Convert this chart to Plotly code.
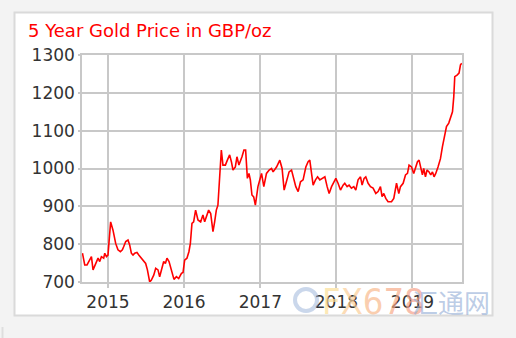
import plotly.graph_objects as go
import pandas as pd

# ---- data (decimal year, GBP/oz) ----
years = [2014.664, 2014.694, 2014.724, 2014.750, 2014.782, 2014.803, 2014.834, 2014.869, 2014.891, 2014.913,
         2014.943, 2014.957, 2014.979, 2015.000, 2015.035, 2015.066, 2015.101, 2015.131, 2015.163, 2015.189,
         2015.206, 2015.233, 2015.263, 2015.285, 2015.307, 2015.329, 2015.351, 2015.381, 2015.407, 2015.439,
         2015.469, 2015.495, 2015.518, 2015.548, 2015.570, 2015.601, 2015.627, 2015.657, 2015.679, 2015.710,
         2015.732, 2015.754, 2015.775, 2015.802, 2015.824, 2015.846, 2015.867, 2015.899, 2015.929, 2015.965,
         2015.986, 2016.008, 2016.038, 2016.064, 2016.083, 2016.104, 2016.126, 2016.152, 2016.183, 2016.218,
         2016.248, 2016.271, 2016.293, 2016.323, 2016.350, 2016.380, 2016.402, 2016.424, 2016.445, 2016.468,
         2016.490, 2016.511, 2016.543, 2016.569, 2016.599, 2016.622, 2016.643, 2016.674, 2016.695, 2016.721,
         2016.740, 2016.761, 2016.787, 2016.809, 2016.832, 2016.853, 2016.871, 2016.892, 2016.915, 2016.937,
         2016.971, 2017.016, 2017.046, 2017.081, 2017.116, 2017.147, 2017.168, 2017.213, 2017.256, 2017.286,
         2017.313, 2017.344, 2017.378, 2017.410, 2017.444, 2017.466, 2017.497, 2017.528, 2017.562, 2017.598,
         2017.628, 2017.650, 2017.673, 2017.694, 2017.725, 2017.752, 2017.782, 2017.817, 2017.848, 2017.878,
         2017.904, 2017.936, 2017.966, 2017.992, 2018.022, 2018.054, 2018.088, 2018.110, 2018.141, 2018.167,
         2018.198, 2018.229, 2018.255, 2018.285, 2018.317, 2018.338, 2018.364, 2018.386, 2018.417, 2018.448,
         2018.482, 2018.518, 2018.548, 2018.579, 2018.600, 2018.623, 2018.649, 2018.679, 2018.724, 2018.754,
         2018.790, 2018.820, 2018.842, 2018.877, 2018.908, 2018.934, 2018.955, 2018.987, 2019.017, 2019.039,
         2019.066, 2019.087, 2019.109, 2019.131, 2019.148, 2019.171, 2019.192, 2019.218, 2019.240, 2019.263,
         2019.284, 2019.306, 2019.336, 2019.368, 2019.394, 2019.424, 2019.447, 2019.477, 2019.503, 2019.526,
         2019.543, 2019.556, 2019.586, 2019.612, 2019.631, 2019.648]
prices = [776, 745, 745, 754, 767, 732, 745, 763, 754, 767,
          763, 776, 767, 771, 859, 837, 802, 785, 780, 785,
          793, 807, 811, 798, 776, 771, 776, 778, 771, 763,
          754, 749, 732, 700, 705, 718, 736, 732, 714, 740,
          754, 749, 763, 754, 736, 718, 707, 714, 709, 723,
          725, 758, 763, 780, 802, 855, 859, 890, 864, 859,
          877, 859, 872, 890, 881, 833, 859, 890, 903, 987,
          1049, 1009, 1009, 1022, 1036, 1018, 996, 1004, 1031, 1009,
          1018, 1031, 1049, 1049, 974, 987, 970, 930, 925, 903,
          952, 987, 952, 987, 996, 1000, 991, 1004, 1022, 1000,
          943, 965, 991, 996, 970, 952, 939, 965, 970, 1004,
          1018, 1022, 987, 956, 970, 978, 970, 974, 978, 952,
          934, 952, 965, 974, 961, 943, 956, 961, 952, 956,
          948, 952, 943, 970, 978, 956, 974, 978, 961, 952,
          948, 934, 939, 952, 926, 934, 921, 912, 912, 921,
          961, 934, 952, 961, 983, 987, 1009, 1004, 987, 1004,
          1018, 1022, 1004, 983, 1000, 978, 996, 991, 983, 991,
          978, 987, 1004, 1026, 1058, 1089, 1111, 1120, 1137, 1150,
          1190, 1243, 1247, 1252, 1274, 1278]
x_range_years = [2014.658, 2019.651]
year_ticks = [2015, 2016, 2017, 2018, 2019]
year_labels = ["2015", "2016", "2017", "2018", "2019"]
y_ticks = [700, 800, 900, 1000, 1100, 1200, 1300]
title_text = "5 Year Gold Price in GBP/oz"


def dec_to_date(v):
    y = int(v)
    return pd.Timestamp(year=y, month=1, day=1) + pd.Timedelta(days=(v - y) * 365.25)


dates = [dec_to_date(v) for v in years]

W, H = 516, 338
L, R, T, B = 82, 462, 55, 282


def px(x):
    return (x - L) / (R - L)


def py(y):
    return (B - y) / (B - T)


fig = go.Figure()
fig.add_trace(go.Scatter(x=dates, y=prices, mode="lines",
                         line=dict(color="#ff0000", width=1.6), hoverinfo="skip"))

grid = "#c8c8c8"
fig.update_xaxes(type="date", range=[dec_to_date(v) for v in x_range_years],
                 tickvals=[pd.Timestamp(year=v, month=1, day=1) for v in year_ticks],
                 ticktext=year_labels, showgrid=True, gridcolor=grid, gridwidth=1.5,
                 showline=True, linecolor=grid, linewidth=1.5, mirror=True,
                 ticks="outside", ticklen=4, tickcolor=grid, tickwidth=1.5,
                 tickfont=dict(family="DejaVu Sans", size=17, color="#333333"),
                 zeroline=False)
fig.update_yaxes(range=[700, 1300], tickvals=y_ticks, ticktext=[str(v) for v in y_ticks],
                 showgrid=True, gridcolor=grid, gridwidth=1.5,
                 showline=True, linecolor=grid, linewidth=1.5, mirror=True,
                 ticks="outside", ticklen=2, tickcolor=grid, tickwidth=1.5,
                 tickfont=dict(family="DejaVu Sans", size=17, color="#333333"),
                 zeroline=False)

shapes = [
    dict(type="rect", xref="paper", yref="paper", layer="below",
         x0=px(14.5), x1=px(492.5), y0=py(315.5), y1=py(12.5),
         fillcolor="#ffffff", line=dict(color="#dadada", width=2)),
    dict(type="line", xref="paper", yref="paper", layer="below",
         x0=px(2.5), x1=px(2.5), y0=py(327), y1=py(338),
         line=dict(color="#dedede", width=2)),
    dict(type="circle", xref="paper", yref="paper", layer="above",
         x0=px(295), x1=px(317), y0=py(311), y1=py(289),
         line=dict(color="rgba(150,175,215,0.5)", width=4)),
]

annotations = [
    dict(text=title_text, xref="paper", yref="paper", x=px(26), y=py(30.5),
         xanchor="left", yanchor="middle", showarrow=False,
         font=dict(family="DejaVu Sans", size=18, color="#ff0000")),
    dict(text=("<span style='color:rgba(252,222,150,0.7)'>F</span>"
               "<span style='color:rgba(251,205,150,0.7)'>X</span>"
               "<span style='color:rgba(249,185,140,0.7)'>6</span>"
               "<span style='color:rgba(247,170,135,0.7)'>7</span>"
               "<span style='color:rgba(245,160,135,0.7)'>8</span>"),
         xref="paper", yref="paper", x=px(373), y=py(301),
         xanchor="center", yanchor="middle", showarrow=False,
         font=dict(family="Liberation Sans Narrow, DejaVu Sans Condensed", size=36)),
    dict(text="汇通网", xref="paper", yref="paper", x=px(451), y=py(301),
         xanchor="center", yanchor="middle", showarrow=False,
         font=dict(family="Noto Sans CJK SC", size=26, color="rgba(150,175,215,0.65)")),
]

fig.update_layout(width=W, height=H, margin=dict(l=L, r=W - R, t=T, b=H - B),
                  paper_bgcolor="#f3f3f3", plot_bgcolor="#ffffff",
                  showlegend=False, shapes=shapes, annotations=annotations)

fig.write_html("out.html")
